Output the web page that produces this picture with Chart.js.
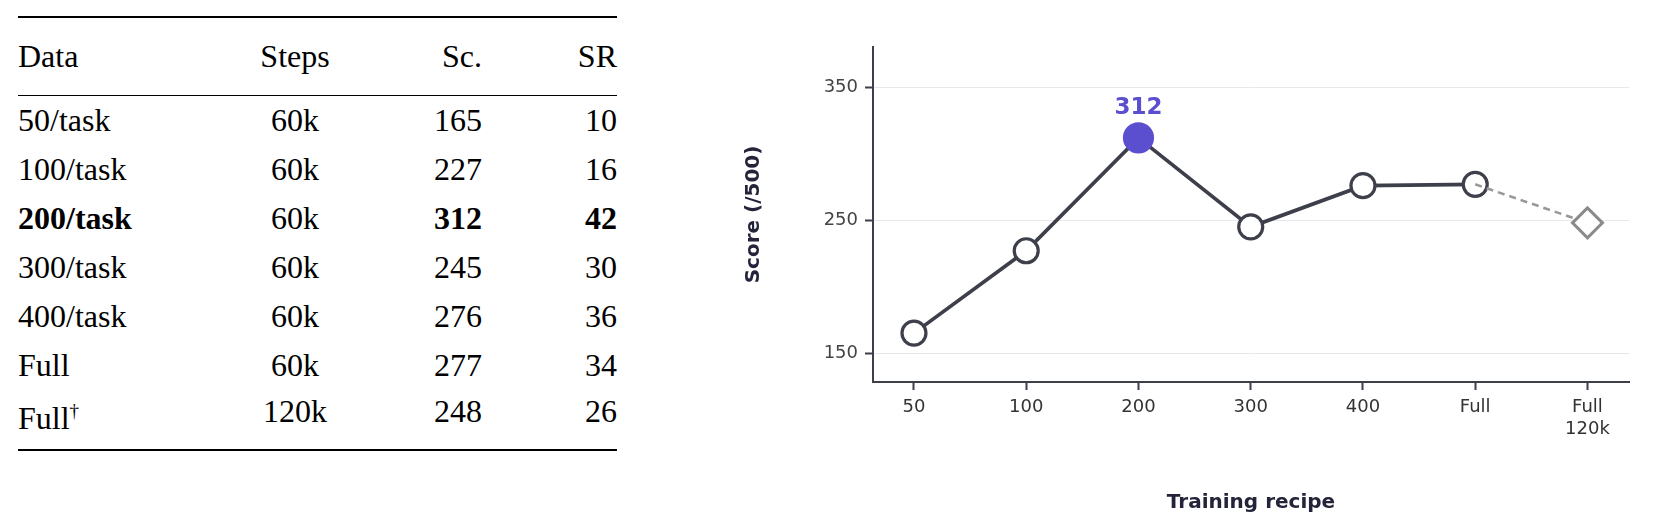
<!DOCTYPE html>
<html><head><meta charset="utf-8">
<script src="https://cdn.jsdelivr.net/npm/chart.js@4.4.0/dist/chart.umd.min.js"></script>
<style>
body{margin:0;width:1653px;height:519px;background:#fff;position:relative;overflow:hidden}
#tbl{position:absolute;left:18px;top:16px;width:599px;border-collapse:collapse;font-family:"Liberation Serif",serif;font-size:32px;color:#000}
#tbl td{padding:0;height:49px;line-height:49px}
#tbl thead td{height:77px;line-height:77px}
#tbl thead tr{border-top:2px solid #000;border-bottom:1.5px solid #000}
#tbl tbody tr:last-child{border-bottom:2px solid #000}
#tbl tbody tr:last-child td{height:59px;line-height:42px;vertical-align:top}
.c2{text-align:center}.c3{text-align:right}.c4{text-align:right}
#wrap{position:absolute;left:738px;top:0;width:915px;height:519px}
</style></head><body>
<table id="tbl"><colgroup><col style="width:211px"><col style="width:132px"><col style="width:121px"><col style="width:135px"></colgroup><thead></thead><tbody></tbody></table>
<div id="wrap"><canvas id="c" width="915" height="519"></canvas></div>
<script>
const header=["Data","Steps","Sc.","SR"];
const rowData=["50/task","100/task","200/task","300/task","400/task","Full","Full<sup style='font-size:19px'>†</sup>"];
const rowSteps=["60k","60k","60k","60k","60k","60k","120k"];
const rowScore=[165,227,312,245,276,277,248];
const rowSR=[10,16,42,30,36,34,26];
const boldRow=2;
const xLabels=[["50"],["100"],["200"],["300"],["400"],["Full"],["Full","120k"]];
const mainScores=[165,227,312,245,276,277];
const dashScores=[277,248];
const yTicks=[150,250,350];

const th=document.querySelector('#tbl thead'),tb=document.querySelector('#tbl tbody');
th.innerHTML='<tr>'+header.map((h,i)=>`<td class="c${i+1}">${h}</td>`).join('')+'</tr>';
tb.innerHTML=rowData.map((d,i)=>{const b=i===boldRow?'font-weight:bold':'';return `<tr style="${b}"><td>${d}</td><td class="c2" style="font-weight:normal">${rowSteps[i]}</td><td class="c3">${rowScore[i]}</td><td class="c4">${rowSR[i]}</td></tr>`}).join('');

const dark='#3d3f4b', accent='#5b4fcf';
const labelPlugin={id:'lbl',afterDatasetsDraw(ch){const c=ch.ctx,x=ch.scales.x,y=ch.scales.y;c.save();c.fillStyle=accent;c.font='bold 23px "DejaVu Sans"';c.textAlign='center';c.textBaseline='bottom';c.fillText(String(mainScores[2]),x.getPixelForValue(2),y.getPixelForValue(mainScores[2])-18);c.restore();}};
new Chart(document.getElementById('c'),{
 type:'line',
 data:{datasets:[
  {data:dashScores.map((v,i)=>({x:5+i,y:v})),borderColor:'#999',borderWidth:2.6,borderDash:[7,5],pointStyle:'rectRot',pointRadius:[0,15],pointBackgroundColor:'#fff',pointBorderColor:'#8a8a8a',pointBorderWidth:3},
  {data:mainScores.map((v,i)=>({x:i,y:v})),borderColor:dark,borderWidth:3.7,pointRadius:mainScores.map((v,i)=>i===2?14:12),pointBackgroundColor:mainScores.map((v,i)=>i===2?accent:'#fff'),pointBorderColor:mainScores.map((v,i)=>i===2?accent:dark),pointBorderWidth:3.2}
 ]},
 options:{responsive:false,animation:false,events:[],
  layout:{padding:{left:0,top:47,right:24,bottom:0}},
  plugins:{legend:{display:false},tooltip:{enabled:false}},
  scales:{
   x:{type:'linear',min:-0.365,max:6.37,
    afterBuildTicks:s=>{s.ticks=xLabels.map((l,i)=>({value:i}))},
    afterFit:s=>{s.height=137},
    ticks:{callback:(v)=>xLabels[v],font:{family:'DejaVu Sans',size:18},color:'#333',padding:7,maxRotation:0},
    grid:{drawOnChartArea:false,tickColor:dark,tickLength:8,tickWidth:2},
    border:{color:dark,width:2},
    title:{display:true,text:'Training recipe',font:{family:'DejaVu Sans',size:20,weight:'bold'},color:'#23233a',padding:{top:2}}},
   y:{min:128.2,max:380.4,
    afterBuildTicks:s=>{s.ticks=yTicks.map(v=>({value:v}))},
    afterFit:s=>{s.width=135},
    ticks:{font:{family:'DejaVu Sans',size:18},color:'#444',padding:7},
    grid:{color:'#e8e8ec',lineWidth:1,tickColor:dark,tickLength:8,tickWidth:2},
    border:{color:dark,width:2},
    title:{display:true,text:'Score (/500)',font:{family:'DejaVu Sans',size:20,weight:'bold'},color:'#23233a',padding:{bottom:10}}}
  }},
 plugins:[labelPlugin]
});
</script></body></html>
